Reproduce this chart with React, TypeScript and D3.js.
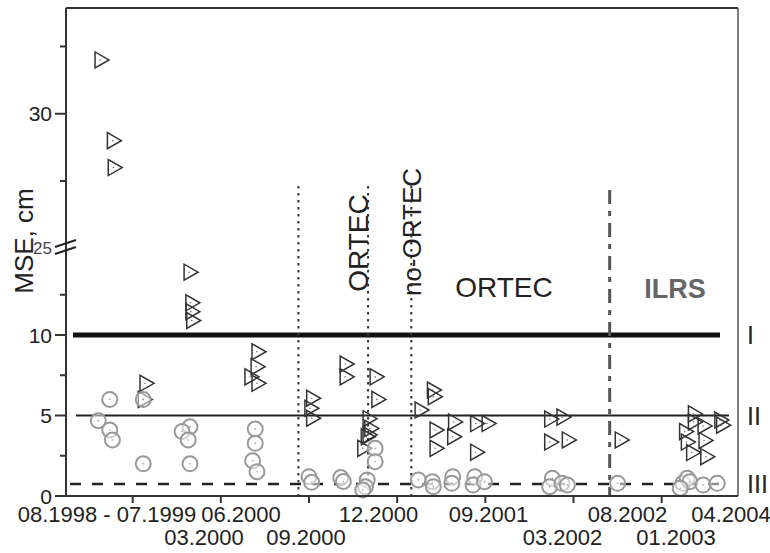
import React from "react";
import * as d3 from "d3";

// ---- data (x in session-axis units, y = MSE in cm) ----
const triangles: [number, number][] = [
  [0.63, 32.0], [0.77, 29.0], [0.78, 28.0],
  [1.14, 7.0], [1.12, 6.0],
  [1.64, 13.9], [1.66, 12.0], [1.66, 11.45], [1.67, 10.9],
  [2.41, 8.96], [2.4, 8.03], [2.41, 7.0], [2.33, 7.4],
  [3.03, 6.07], [3.01, 5.45], [3.03, 4.83],
  [3.41, 8.2], [3.41, 7.4],
  [3.75, 7.4], [3.77, 6.0], [3.67, 4.8], [3.69, 4.2], [3.67, 3.8], [3.65, 3.68], [3.61, 2.96],
  [4.26, 5.34], [4.4, 6.58], [4.41, 6.17], [4.43, 4.1], [4.43, 2.96],
  [4.64, 4.6], [4.63, 3.68],
  [4.89, 4.5], [5.02, 4.5], [4.89, 2.72],
  [5.73, 4.78], [5.87, 4.9], [5.73, 3.35], [5.93, 3.48],
  [6.53, 3.48],
  [7.36, 5.1], [7.36, 4.6], [7.47, 4.35], [7.66, 4.72], [7.68, 4.4],
  [7.26, 4.0], [7.28, 3.35], [7.48, 3.45], [7.34, 2.7], [7.5, 2.44],
];

const circles: [number, number][] = [
  [0.74, 6.0], [0.61, 4.68], [0.74, 4.1], [0.77, 3.48],
  [1.12, 6.0], [1.12, 2.0],
  [1.65, 4.3], [1.56, 4.0], [1.63, 3.48], [1.65, 2.0],
  [2.39, 4.16], [2.39, 3.27], [2.36, 2.19], [2.41, 1.51],
  [3.0, 1.2], [3.03, 0.85],
  [3.36, 1.15], [3.39, 0.9],
  [3.75, 2.96], [3.75, 2.13], [3.66, 1.0], [3.64, 0.58], [3.61, 0.37],
  [4.24, 1.0], [4.4, 0.89], [4.41, 0.58],
  [4.63, 1.2], [4.62, 0.79],
  [4.88, 1.2], [4.86, 0.68], [4.99, 0.89],
  [5.76, 1.1], [5.73, 0.58], [5.87, 0.79], [5.93, 0.68],
  [6.5, 0.79],
  [7.24, 0.79], [7.29, 1.1], [7.32, 0.89], [7.47, 0.68], [7.63, 0.79], [7.21, 0.48],
];

const thresholdValues = [10, 5, 0.75];
const thresholdNames = ["I", "II", "III"];

const xTickValues = [1, 2, 3, 4, 5, 6, 7];
const labelTopText = ["08.1998 - 07.1999", "06.2000", "12.2000", "09.2001", "08.2002", "04.2004"];
const labelTopAt = [0.709, 2.229, 3.788, 5.036, 6.612, 7.786];
const labelBottomText = ["03.2000", "09.2000", "03.2002", "01.2003"];
const labelBottomAt = [1.809, 2.966, 5.875, 7.162];

const dottedEpochs = [2.88, 3.67, 4.16];
const ilrsEpoch = 6.41;

const yLowerMajor = [0, 5, 10];
const yLowerMinor = [2.5, 7.5, 12.5];
const yUpperMajor = [30];
const yUpperMinor = [27.5, 32.5];

const FONT = "'Liberation Sans', Arial, Helvetica, sans-serif";

export default function App() {
  const W = 770, H = 553;
  const left = 66, right = 738, top = 8, bottom = 496;

  const x = d3.scaleLinear().domain([0, 8]).range([44.5, 44.5 + 8 * 88.17]);
  const yLow = d3.scaleLinear().domain([0, 15]).range([bottom, 254.5]);
  const yUp = d3.scaleLinear().domain([25, 33.93]).range([248.3, top]);
  const y = (v: number) => (v >= 20 ? yUp(v) : yLow(v));

  const triPath = (cx: number, cy: number) =>
    `M${cx - 5},${cy - 8}L${cx - 5},${cy + 8}L${cx + 9},${cy}Z`;

  const lineStyles = [
    { x1: 73, x2: 720, w: 5, dash: undefined as string | undefined, color: "#111" },
    { x1: 76, x2: 729, w: 2, dash: undefined, color: "#222" },
    { x1: 70, x2: 727, w: 2.5, dash: "11,11", color: "#222" },
  ];

  return (
    <svg width={W} height={H} style={{ position: "absolute", left: 0, top: 0, background: "#fff" }} fontFamily={FONT}>
      <rect x={0} y={0} width={W} height={H} fill="#fff" />

      {/* threshold lines */}
      {thresholdValues.map((v, i) => (
        <line key={"th" + i} x1={lineStyles[i].x1} x2={lineStyles[i].x2} y1={y(v)} y2={y(v)}
          stroke={lineStyles[i].color} strokeWidth={lineStyles[i].w} strokeDasharray={lineStyles[i].dash} />
      ))}

      {/* epoch lines */}
      {dottedEpochs.map((e, i) => (
        <line key={"ep" + i} x1={x(e)} x2={x(e)} y1={186} y2={bottom} stroke="#333" strokeWidth={2}
          strokeDasharray="2.5,4.5" />
      ))}
      <line x1={x(ilrsEpoch)} x2={x(ilrsEpoch)} y1={190} y2={bottom} stroke="#555" strokeWidth={3}
        strokeDasharray="14,7,5,7" />

      {/* region labels */}
      <text transform={`translate(368,243) rotate(-90)`} textAnchor="middle" fontSize={28} fill="#222">ORTEC</text>
      <text transform={`translate(421,232) rotate(-90)`} textAnchor="middle" fontSize={26} fill="#222">no-ORTEC</text>
      <text x={504} y={297} textAnchor="middle" fontSize={28} fill="#222">ORTEC</text>
      <text x={675} y={298} textAnchor="middle" fontSize={27} fontWeight="bold" fill="#666">ILRS</text>

      {/* triangles */}
      {triangles.map(([u, v], i) => (
        <g key={"t" + i}>
          <path d={triPath(x(u), y(v))} fill="none" stroke="#333" strokeWidth={1.5} strokeLinejoin="miter" />
          <circle cx={x(u)} cy={y(v)} r={0.8} fill="#777" />
        </g>
      ))}

      {/* circles */}
      {circles.map(([u, v], i) => (
        <g key={"c" + i}>
          <circle cx={x(u)} cy={y(v)} r={7.5} fill="#fff" fillOpacity={0.5} stroke="#999" strokeWidth={2} />
          <circle cx={x(u)} cy={y(v)} r={0.8} fill="#999" />
        </g>
      ))}

      {/* frame */}
      <line x1={left} x2={left} y1={top} y2={bottom} stroke="#333" strokeWidth={2} />
      <line x1={left} x2={right} y1={top} y2={top} stroke="#333" strokeWidth={2} />
      <line x1={right} x2={right} y1={top} y2={bottom} stroke="#555" strokeWidth={1.5} />
      <line x1={left} x2={right} y1={bottom} y2={bottom} stroke="#333" strokeWidth={2} />

      {/* y ticks */}
      {yLowerMajor.map((v) => (
        <g key={"ylm" + v}>
          <line x1={55} x2={left} y1={yLow(v)} y2={yLow(v)} stroke="#333" strokeWidth={2} />
          <text x={52} y={yLow(v)} dy="0.36em" textAnchor="end" fontSize={21} fill="#222">{v}</text>
        </g>
      ))}
      {yLowerMinor.map((v) => (
        <line key={"ylmi" + v} x1={60} x2={left} y1={yLow(v)} y2={yLow(v)} stroke="#333" strokeWidth={2} />
      ))}
      {yUpperMajor.map((v) => (
        <g key={"yum" + v}>
          <line x1={55} x2={left} y1={yUp(v)} y2={yUp(v)} stroke="#333" strokeWidth={2} />
          <text x={52} y={yUp(v)} dy="0.36em" textAnchor="end" fontSize={21} fill="#222">{v}</text>
        </g>
      ))}
      {yUpperMinor.map((v) => (
        <line key={"yumi" + v} x1={60} x2={left} y1={yUp(v)} y2={yUp(v)} stroke="#333" strokeWidth={2} />
      ))}
      {/* axis break */}
      <text x={52} y={yUp(25)} dy="0.36em" textAnchor="end" fontSize={17} fill="#444">25</text>
      <line x1={55} x2={76} y1={247} y2={240} stroke="#222" strokeWidth={2} />
      <line x1={55} x2={76} y1={254} y2={247} stroke="#222" strokeWidth={2} />

      {/* y title */}
      <text transform={`translate(33,241) rotate(-90)`} textAnchor="middle" fontSize={26} fill="#222">MSE, cm</text>

      {/* x ticks */}
      {xTickValues.map((t) => (
        <line key={"xt" + t} x1={x(t)} x2={x(t)} y1={bottom} y2={bottom + 7} stroke="#333" strokeWidth={2} />
      ))}
      {labelTopText.map((s, i) => (
        <text key={"lt" + i} x={x(labelTopAt[i])} y={522} textAnchor="middle" fontSize={22} fill="#222">{s}</text>
      ))}
      {labelBottomText.map((s, i) => (
        <text key={"lb" + i} x={x(labelBottomAt[i])} y={545} textAnchor="middle" fontSize={22} fill="#222">{s}</text>
      ))}

      {/* threshold names */}
      {thresholdValues.map((v, i) => (
        <text key={"tn" + i} x={747} y={y(v)} dy="0.36em" fontSize={25} fill="#222">{thresholdNames[i]}</text>
      ))}
    </svg>
  );
}
